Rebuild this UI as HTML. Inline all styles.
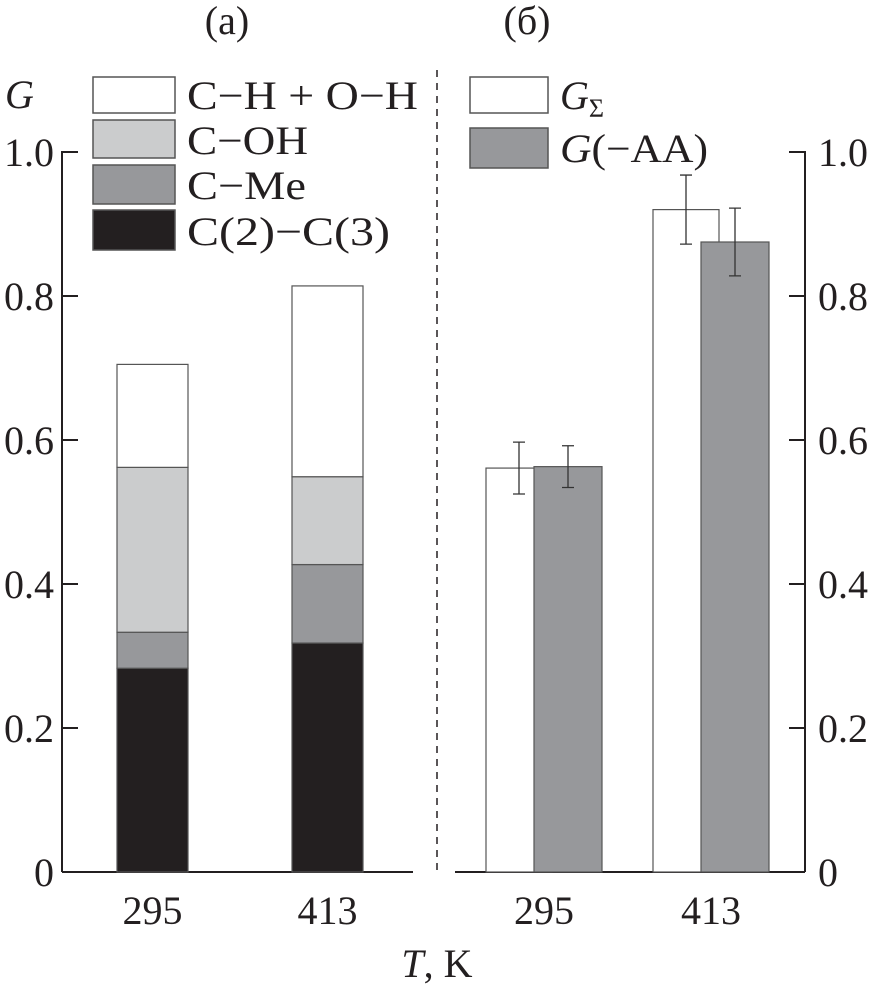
<!DOCTYPE html>
<html><head><meta charset="utf-8"><style>
body{margin:0;background:#fff}
svg text{font-family:"Liberation Serif","Times New Roman",serif;fill:#231f20}
</style></head><body>
<svg width="873" height="988" viewBox="0 0 873 988" id="c">
<text x="227" y="34" font-size="40" text-anchor="middle">(a)</text>
<text x="527" y="34" font-size="40" text-anchor="middle">(б)</text>
<text x="5" y="108" font-size="40" font-style="italic">G</text>
<text x="437" y="977" font-size="40" text-anchor="middle"><tspan font-style="italic">T</tspan>, K</text>
<line x1="437" y1="70" x2="437" y2="872" stroke="#231f20" stroke-width="1.5" stroke-dasharray="7,6"/>
<g id="legend">
<rect x="93" y="77" width="82" height="36" fill="#fff" stroke="#555" stroke-width="1.5"/>
<text x="187" y="109" font-size="40" textLength="231" lengthAdjust="spacingAndGlyphs">C−H + O−H</text>
<rect x="93" y="120" width="82" height="38" fill="#cbcccd" stroke="#555" stroke-width="1.5"/>
<text x="187" y="154" font-size="40" textLength="121" lengthAdjust="spacingAndGlyphs">C−OH</text>
<rect x="93" y="165" width="82" height="39" fill="#97989b" stroke="#555" stroke-width="1.5"/>
<text x="187" y="199" font-size="40" textLength="119" lengthAdjust="spacingAndGlyphs">C−Me</text>
<text x="187" y="245" font-size="40" textLength="203" lengthAdjust="spacingAndGlyphs">C(2)−C(3)</text>
<rect x="93" y="210" width="82" height="40" fill="#231f20" stroke="#555" stroke-width="1.5"/>
<rect x="470" y="77" width="78" height="36" fill="#fff" stroke="#555" stroke-width="1.5"/>
<text x="560" y="109" font-size="40"><tspan font-style="italic">G</tspan><tspan font-size="26" dy="8">Σ</tspan></text>
<rect x="470" y="128" width="78" height="40" fill="#97989b" stroke="#555" stroke-width="1.5"/>
<text x="560" y="162" font-size="40" textLength="148" lengthAdjust="spacingAndGlyphs"><tspan font-style="italic">G</tspan>(−AA)</text>
</g>
</svg>
<script>
const yTicks=[0,0.2,0.4,0.6,0.8,1.0];
const yTickLabels=["0","0.2","0.4","0.6","0.8","1.0"];
const categories=["295","413"];
const seriesNames=["C(2)−C(3)","C−Me","C−OH","C−H + O−H"];
const c2c3=[0.283,0.318];
const cMe=[0.050,0.109];
const cOH=[0.229,0.122];
const cHoH=[0.143,0.265];
const gSum=[0.561,0.920];
const gSumErr=[0.036,0.048];
const gAA=[0.563,0.875];
const gAAErr=[0.029,0.047];

const svg=document.getElementById('c');
const NS='http://www.w3.org/2000/svg';
const y=v=>872-v*720;
function el(t,a,p){const e=document.createElementNS(NS,t);for(const k in a)e.setAttribute(k,a[k]);(p||svg).appendChild(e);return e;}
let ax=el('line',{x1:62,y1:872,x2:413,y2:872,stroke:'#231f20','stroke-width':2});


ax=el('line',{x1:62,y1:151,x2:62,y2:872,stroke:'#231f20','stroke-width':2});


ax=el('line',{x1:455,y1:872,x2:805,y2:872,stroke:'#231f20','stroke-width':2});


ax=el('line',{x1:805,y1:151,x2:805,y2:872,stroke:'#231f20','stroke-width':2});


yTicks.forEach((v,i)=>{
 let t=el('line',{x1:62,y1:y(v),x2:78,y2:y(v),stroke:'#231f20','stroke-width':2});
 
 
 t=el('line',{x1:789,y1:y(v),x2:805,y2:y(v),stroke:'#231f20','stroke-width':2});
 
 
 let l=el('text',{x:54,y:y(v)+14,'font-size':40,'text-anchor':'end'});l.textContent=yTickLabels[i];
 
 
 l=el('text',{x:818,y:y(v)+14,'font-size':40});l.textContent=yTickLabels[i];
 
 
});
const leftCenters=[152.5,327.5], rightCenters=[544,711];
const fills=['#231f20','#97989b','#cbcccd','#fff'];
const stacks=[c2c3,cMe,cOH,cHoH];
categories.forEach((c,i)=>{
 let base=0;
 stacks.forEach((s,k)=>{
  const r=el('rect',{x:leftCenters[i]-35.5,y:y(base+s[i]),width:71,height:s[i]*720,fill:fills[k],stroke:'#555','stroke-width':1.2});
  
  
  base+=s[i];
 });
 let l=el('text',{x:leftCenters[i],y:924,'font-size':40,'text-anchor':'middle'});l.textContent=c;
 
 
 l=el('text',{x:rightCenters[i],y:924,'font-size':40,'text-anchor':'middle'});l.textContent=c;
 
 
 const wx=rightCenters[i]-58, gx=rightCenters[i]-10;
 let r=el('rect',{x:wx,y:y(gSum[i]),width:66,height:gSum[i]*720,fill:'#fff',stroke:'#555','stroke-width':1.2});
 
 
 r=el('rect',{x:gx,y:y(gAA[i]),width:68,height:gAA[i]*720,fill:'#97989b',stroke:'#555','stroke-width':1.2});
 
 
 [[wx+33,gSum[i],gSumErr[i],'gsum'],[gx+34,gAA[i],gAAErr[i],'gaa']].forEach(([cx,v,e,n])=>{
  const g=el('path',{d:`M${cx},${y(v+e)}V${y(v-e)}M${cx-6},${y(v+e)}H${cx+6}M${cx-6},${y(v-e)}H${cx+6}`,stroke:'#333','stroke-width':1.3,fill:'none'});
  
  
 });
});
</script>
</body></html>
